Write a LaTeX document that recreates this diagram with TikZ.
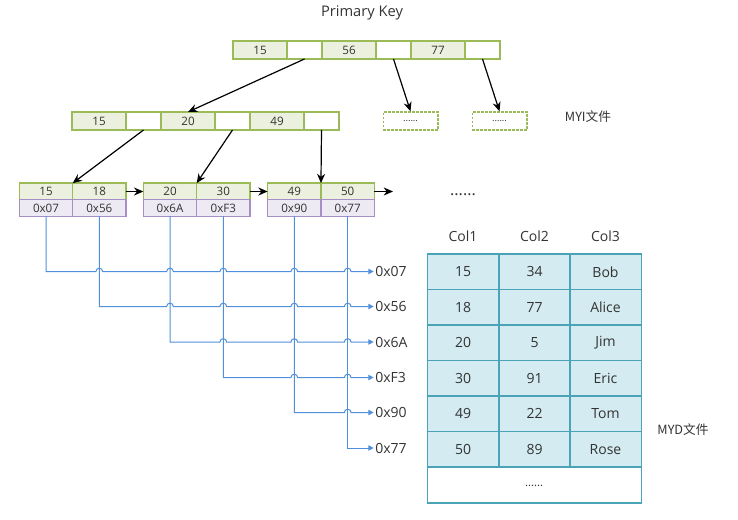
\documentclass[tikz,border=0pt]{standalone}
\usepackage{tikz}
\usepackage{fontspec}
\setmainfont{Open Sans}
\newfontfamily\cjk{Noto Sans CJK SC}
\usetikzlibrary{arrows.meta}
\definecolor{keyline}{HTML}{9BBB59}
\definecolor{keyfill}{HTML}{EBF1DE}
\definecolor{addrline}{HTML}{A58FC6}
\definecolor{addrfill}{HTML}{EEEAF3}
\definecolor{linkblue}{HTML}{4F8FDB}
\definecolor{rowline}{HTML}{4BA3B8}
\definecolor{rowfill}{HTML}{D3EBF1}
\definecolor{txt}{HTML}{333333}

\begin{document}
\begin{tikzpicture}[x=0.75pt,y=0.75pt,text=txt]
						\useasboundingbox (0,0) rectangle (738,-520);
						\tikzstyle{key}=[draw=keyline,fill=keyfill,line width=1pt,inner sep=0pt,outer sep=0pt,minimum width=40.5pt,minimum height=13.5pt,font=\fontsize{8.7}{9}\selectfont]
						\tikzstyle{ptr}=[key,fill=white,minimum width=26.25pt]
						\tikzstyle{leaf}=[key,minimum width=40pt,minimum height=12.5pt]
						\tikzstyle{addr}=[leaf,draw=addrline,fill=addrfill]
						\tikzstyle{more}=[draw=keyline,line width=1pt,dash pattern=on 2pt off 1pt,minimum width=41pt,minimum height=13.5pt,inner sep=0pt,font=\fontsize{7}{8}\selectfont]
						\tikzstyle{cell}=[draw=rowline,fill=rowfill,line width=1pt,inner sep=0pt,outer sep=0pt,minimum width=53.5pt,minimum height=26.6pt,font=\fontsize{10.5}{12}\selectfont]
						\tikzstyle{hex}=[anchor=west,inner sep=0pt,font=\fontsize{10.5}{12}\selectfont]
						\tikzstyle{tree}=[line width=0.9pt,-{Stealth[length=7pt,width=6pt]}]
						\tikzstyle{link}=[linkblue,line width=0.75pt,-{Triangle[length=4pt,width=4pt]}]
						% root
						\node at (362,-13) {\fontsize{11}{12}\selectfont Primary Key};
						\node[key](r1) at (260,-50) {15};
						\node[ptr](rp1) at (304.5,-50) {};
						\node[key](r2) at (349,-50) {56};
						\node[ptr](rp2) at (393.5,-50) {};
						\node[key](r3) at (438,-50) {77};
						\node[ptr](rp3) at (482.5,-50) {};
						% second level
						\node[key](m1) at (99,-121) {15};
						\node[ptr](mp1) at (143.5,-121) {};
						\node[key](m2) at (188,-121) {20};
						\node[ptr](mp2) at (232.5,-121) {};
						\node[key](m3) at (277,-121) {49};
						\node[ptr](mp3) at (321.5,-121) {};
						\node[more](d1) at (410.5,-121) {......};
						\node[more](d2) at (499.5,-121) {......};
						\node at (588,-117) {\cjk\fontsize{9.5}{10}\selectfont MYI文件};
						% leaves
						\node[leaf](k1) at (46,-191.5) {15};
						\node[leaf](k2) at (99.3,-191.5) {18};
						\node[leaf](k3) at (170,-191.5) {20};
						\node[leaf](k4) at (223.3,-191.5) {30};
						\node[leaf](k5) at (294.3,-191.5) {49};
						\node[leaf](k6) at (347.7,-191.5) {50};
						\node[addr](a1) at (46,-208) {0x07};
						\node[addr](a2) at (99.3,-208) {0x56};
						\node[addr](a3) at (170,-208) {0x6A};
						\node[addr](a4) at (223.3,-208) {0xF3};
						\node[addr](a5) at (294.3,-208) {0x90};
						\node[addr](a6) at (347.7,-208) {0x77};
						\coordinate (end) at (393,-191.5);
						\draw[tree](rp1.south) -- (m2.north);
						\draw[tree](rp2.south) -- (d1.north);
						\draw[tree](rp3.south) -- (d2.north);
						\draw[tree](mp1.south) -- (k1.north east);
						\draw[tree](mp2.south) -- (k3.north east);
						\draw[tree](mp3.south) -- (k5.north east);
						\draw[tree](k2.east) -- (k3.west);
						\draw[tree](k4.east) -- (k5.west);
						\draw[tree](k6.east) -- (end);
						% data file
						\node[hex](p1) at (375,-271.5) {0x07};
						\node[hex](p2) at (375,-306.5) {0x56};
						\node[hex](p3) at (375,-342) {0x6A};
						\node[hex](p4) at (375,-377.5) {0xF3};
						\node[hex](p5) at (375,-412.5) {0x90};
						\node[hex](p6) at (375,-448) {0x77};
						\foreach \i/\rest in {1/{2,3,4,5,6},2/{3,4,5,6},3/{4,5,6},4/{5,6},5/{6}}
							\draw[link](a\i.south) -- (a\i.south |- p\i.west)
								\foreach \j in \rest {-- ([xshift=-2.5pt]a\j.south |- p\i.west) arc[start angle=180,end angle=0,radius=2.5pt]}
								-- ([xshift=-1pt]p\i.west);
						\draw[link](a6.south) |- ([xshift=-1pt]p6.west);
						\node at (463,-195) {\fontsize{12}{12}\selectfont ......};
						\node at (463,-236) {\fontsize{10.5}{12}\selectfont Col1};
						\node at (534.5,-236) {\fontsize{10.5}{12}\selectfont Col2};
						\node at (605.5,-236) {\fontsize{10.5}{12}\selectfont Col3};
						\foreach \r/\y/\a/\b/\c in {1/271.75/15/34/Bob,2/307.25/18/77/Alice,3/342.75/20/5/Jim,4/378.25/30/91/Eric,5/413.75/49/22/Tom,6/449.25/50/89/Rose}{
							\node[cell](t\r a) at (463,-\y) {\a};
							\node[cell](t\r b) at (534.5,-\y) {\b};
							\node[cell](t\r c) at (605.5,-\y) {\c};
						}
						\node[cell,fill=white,minimum width=160.5pt,minimum height=27pt](tail) at (534.2,-485) {\raisebox{-2pt}{\fontsize{8.5}{9}\selectfont ......}};
						\node at (683,-430) {\cjk\fontsize{9.5}{10}\selectfont MYD文件};
					\end{tikzpicture}
\end{document}
